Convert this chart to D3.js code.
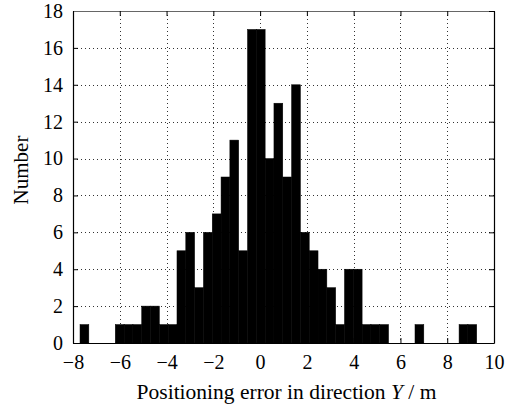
<!DOCTYPE html>
<html>
<head>
<meta charset="utf-8">
<script src="https://cdn.jsdelivr.net/npm/d3@7"></script>
<style>
  html, body { margin: 0; padding: 0; background: #fff; }
  svg { display: block; }
  text { font-family: "Liberation Serif", "Times New Roman", serif; fill: #000; }
</style>
</head>
<body>
<svg id="chart" width="522" height="415"></svg>
<script>
// Histogram of positioning error in the Y direction (45 equal-width bins)
const binStart = -7.70;   // left edge of the first bin (m)
const binWidth = 0.3769;  // bin width (m)
const binCounts = [
  1, 0, 0, 0, 1, 1, 1, 2, 2, 1,
  1, 5, 6, 3, 6, 7, 9, 11, 5, 17,
  17, 10, 13, 9, 14, 6, 5, 4, 3, 1,
  4, 4, 1, 1, 1, 0, 0, 0, 1, 0,
  0, 0, 0, 1, 1
];
const xTicks = [-8, -6, -4, -2, 0, 2, 4, 6, 8, 10];
const yTicks = [0, 2, 4, 6, 8, 10, 12, 14, 16, 18];
const xLabel = "Positioning error in direction ";
const xLabelVar = "Y";
const xLabelUnit = " / m";
const yLabel = "Number";

const bins = binCounts.map((c, i) => ({
  x0: binStart + i * binWidth,
  x1: binStart + (i + 1) * binWidth,
  count: c
}));

const svg = d3.select("#chart");
const plotL = 73, plotR = 494, plotT = 11, plotB = 343;

const x = d3.scaleLinear().domain([-8, 10]).range([plotL, plotR]);
const y = d3.scaleLinear().domain([0, 18]).range([plotB, plotT]);

// dotted grid
const grid = svg.append("g").attr("stroke", "#333").attr("stroke-width", 1)
  .attr("stroke-dasharray", "1,3");
grid.selectAll("line.gx").data(xTicks.slice(1, -1)).join("line")
  .attr("x1", d => Math.round(x(d)) + 0.5).attr("x2", d => Math.round(x(d)) + 0.5)
  .attr("y1", plotT).attr("y2", plotB);
grid.selectAll("line.gy").data(yTicks.slice(1, -1)).join("line")
  .attr("y1", d => Math.round(y(d)) + 0.5).attr("y2", d => Math.round(y(d)) + 0.5)
  .attr("x1", plotL).attr("x2", plotR);

// bars
svg.append("g").selectAll("rect").data(bins.filter(b => b.count > 0)).join("rect")
  .attr("x", d => x(d.x0))
  .attr("width", d => x(d.x1) - x(d.x0))
  .attr("y", d => y(d.count))
  .attr("height", d => y(0) - y(d.count))
  .attr("fill", "#000")
  .attr("stroke", "#000")
  .attr("stroke-width", 0.5);

// axes with inward ticks on all four sides
const tickLen = 5;
const axB = d3.axisBottom(x).tickValues(xTicks).tickSizeInner(-tickLen).tickSizeOuter(0)
  .tickPadding(12).tickFormat(d => d < 0 ? "\u2212" + Math.abs(d) : d);
const axL = d3.axisLeft(y).tickValues(yTicks).tickSizeInner(-tickLen).tickSizeOuter(0)
  .tickPadding(10);
const axT = d3.axisTop(x).tickValues(xTicks).tickSizeInner(-tickLen).tickSizeOuter(0)
  .tickFormat("");
const axR = d3.axisRight(y).tickValues(yTicks).tickSizeInner(-tickLen).tickSizeOuter(0)
  .tickFormat("");

function style(g) {
  g.select(".domain").attr("stroke", "#000").attr("stroke-width", 1.2);
  g.selectAll(".tick line").attr("stroke", "#000").attr("stroke-width", 1);
  g.selectAll(".tick text").attr("font-size", 20)
    .attr("font-family", '"Liberation Serif", serif').attr("fill", "#000");
}

svg.append("g").attr("transform", `translate(0,${plotB})`).call(axB).call(style);
svg.append("g").attr("transform", `translate(${plotL},0)`).call(axL).call(style);
svg.append("g").attr("transform", `translate(0,${plotT})`).call(axT).call(style)
  .select(".domain").attr("stroke", "#666").attr("stroke-width", 1);
svg.append("g").attr("transform", `translate(${plotR},0)`).call(axR).call(style);

// axis titles
const xt = svg.append("text")
  .attr("x", (plotL + plotR) / 2 + 3).attr("y", 399)
  .attr("text-anchor", "middle").attr("font-size", 21.5);
xt.append("tspan").text(xLabel);
xt.append("tspan").attr("font-style", "italic").text(xLabelVar);
xt.append("tspan").text(xLabelUnit);

svg.append("text")
  .attr("transform", `translate(28,${(plotT + plotB) / 2 - 7}) rotate(-90)`)
  .attr("text-anchor", "middle").attr("font-size", 21)
  .text(yLabel);
</script>
</body>
</html>
